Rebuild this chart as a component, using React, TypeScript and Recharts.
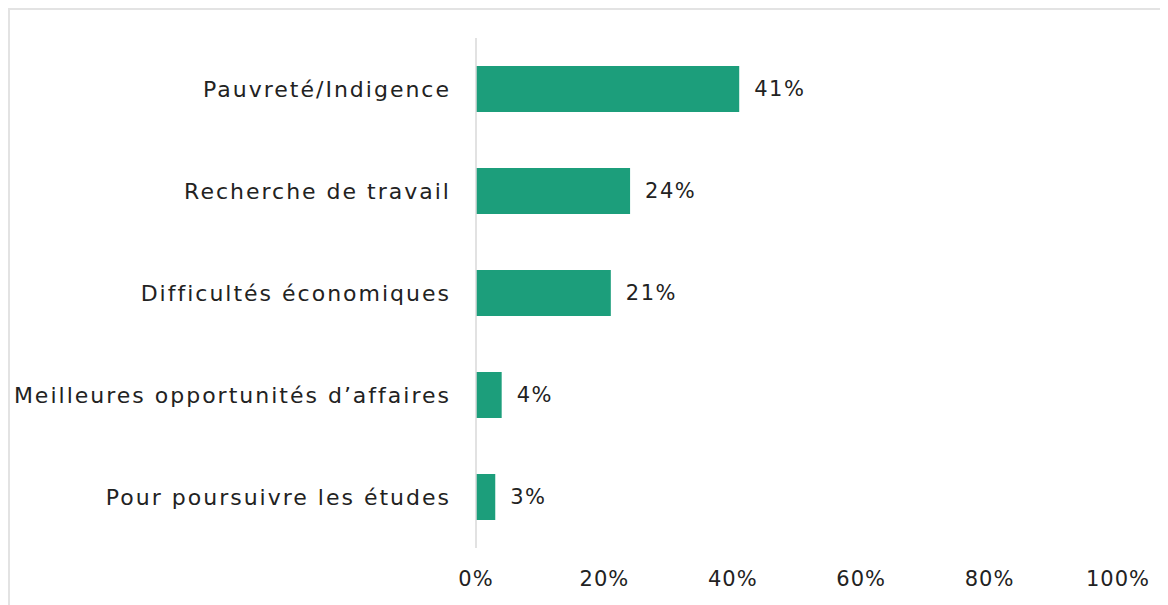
import { BarChart, Bar, XAxis, YAxis, LabelList } from 'recharts';

const categories = [
    'Pauvreté/Indigence',
    'Recherche de travail',
    'Difficultés économiques',
    'Meilleures opportunités d’affaires',
    'Pour poursuivre les études',
];
const shares = [41, 24, 21, 4, 3];
const xTicks = [0, 20, 40, 60, 80, 100];

const data = categories.map((name, i) => ({ name, value: shares[i] }));

const font = '"DejaVu Sans", sans-serif';
const textColor = '#222222';

export default function App() {
    return (
        <div style={{ width: 1158, height: 595, borderTop: '2px solid #e3e3e3', borderLeft: '2px solid #e3e3e3', background: '#fff' }}>
            <BarChart
                width={1158}
                height={595}
                data={data}
                layout="vertical"
                margin={{ top: 28, right: 50, left: 0, bottom: 0 }}
            >
                <XAxis
                    type="number"
                    domain={[0, 100]}
                    ticks={xTicks}
                    interval={0}
                    axisLine={false}
                    tickLine={false}
                    tickSize={0}
                    tickMargin={23}
                    height={57}
                    tickFormatter={(v) => `${v}%`}
                    tick={{ fontFamily: font, fontSize: 21, fill: textColor, letterSpacing: 1 }}
                />
                <YAxis
                    type="category"
                    dataKey="name"
                    width={466}
                    axisLine={{ stroke: '#d9d9d9', strokeWidth: 1.5 }}
                    tickLine={false}
                    tickSize={0}
                    tickMargin={25}
                    interval={0}
                    tick={{ fontFamily: font, fontSize: 22, fill: textColor, letterSpacing: 2 }}
                />
                <Bar dataKey="value" fill="#1c9e7b" barSize={46} isAnimationActive={false}>
                    <LabelList
                        dataKey="value"
                        position="right"
                        offset={15}
                        formatter={(v: number) => `${v}%`}
                        style={{ fontFamily: font, fontSize: 21, fill: textColor, letterSpacing: 1.5 }}
                    />
                </Bar>
            </BarChart>
        </div>
    );
}
